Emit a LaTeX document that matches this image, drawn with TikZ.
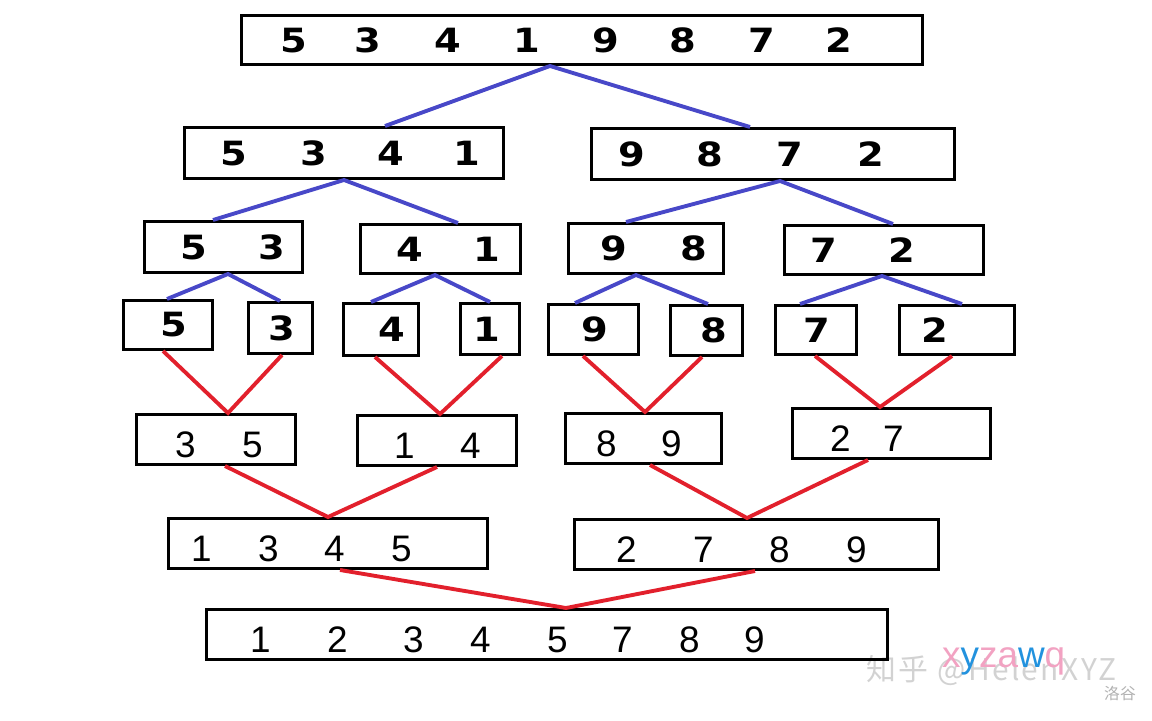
\documentclass[tikz,border=0pt]{standalone}
\usepackage{fontspec}
\setmainfont{Liberation Sans}
\newfontfamily\splitfont[FakeStretch=1.15]{DejaVu Sans Bold}
\newfontfamily\mergefont{Liberation Sans}
\newfontfamily\cjkfont{Noto Sans CJK SC}

\definecolor{splitblue}{RGB}{72,72,200}
\definecolor{mergered}{RGB}{226,32,44}
\definecolor{markpink}{RGB}{242,162,194}
\definecolor{markblue}{RGB}{34,146,222}

\newlength\pxu
\setlength\pxu{0.02cm}
% style, x1, y1, x2, y2, name, list of x/digit
\newcommand\numbox[7]{%
  \node[arraybox,#1,anchor=north west,
        minimum width={(#4-#2)*\pxu},minimum height={(#5-#3)*\pxu}]
    (#6) at (#2,#3) {\pgfmathsetmacro\boxmid{(#2+#4)/2}%
      \foreach \xp/\dg in {#7}{\pgfmathsetlengthmacro\off{(\xp-\boxmid)*\pxu}%
        \makebox[0pt][l]{\hspace*{\off}\makebox[0pt]{\dg}}}};}

\begin{document}
\begin{tikzpicture}[x=0.02cm,y=-0.02cm,
    arraybox/.style={draw,line width=1.7pt,inner sep=0pt},
    upper/.style={font=\splitfont\fontsize{19}{20}\selectfont},
    lower/.style={font=\mergefont\fontsize{21}{22}\selectfont,text height=20pt,text depth=0pt},
    split/.style={draw=splitblue,line width=2.2pt},
    merge/.style={draw=mergered,line width=2.2pt}]

\useasboundingbox (0,0) rectangle (1152,720);

\node[anchor=west,text=gray!35,font=\cjkfont\fontsize{17}{18}\selectfont\addfontfeature{LetterSpace=8}] (zhihu) at (860,671) {知乎 @HelenXYZ};
\node[anchor=base west,font=\mergefont\fontsize{21}{22}\selectfont] (xyz) at (936,667)
  {\color{markpink}x\color{markblue}y\color{markpink}za\color{markblue}w\color{markpink}q};
\node[anchor=west,text=gray!60,font=\cjkfont\fontsize{9}{10}\selectfont] (luogu) at (1098,693) {洛谷};

\numbox{upper}{240}{14}{921}{63}{top}{292/5,366/3,446/4,525/1,604/9,681/8,760/7,837/2}

\numbox{upper}{183}{126}{502}{177}{a}{232/5,312/3,389/4,465/1}
\numbox{upper}{590}{127}{953}{178}{b}{630/9,708/8,788/7,869/2}

\numbox{upper}{143}{220}{301}{271}{aa}{192/5,270/3}
\numbox{upper}{359}{223}{519}{272}{ab}{408/4,485/1}
\numbox{upper}{567}{222}{722}{272}{ba}{612/9,692/8}
\numbox{upper}{783}{224}{982}{273}{bb}{822/7,900/2}

\numbox{upper}{122}{299}{211}{348}{aaa}{172/5}
\numbox{upper}{247}{301}{311}{352}{aab}{280/3}
\numbox{upper}{342}{302}{417}{354}{aba}{390/4}
\numbox{upper}{459}{302}{518}{353}{abb}{485/1}
\numbox{upper}{547}{303}{637}{353}{baa}{593/9}
\numbox{upper}{669}{304}{741}{354}{bab}{712/8}
\numbox{upper}{774}{304}{855}{353}{bba}{815/7}
\numbox{upper}{898}{304}{1013}{353}{bbb}{933/2}

\numbox{lower}{135}{413}{294}{463}{m1}{184/3,251/5}
\numbox{lower}{356}{414}{515}{464}{m2}{403/1,469/4}
\numbox{lower}{564}{412}{720}{462}{m3}{605/8,670/9}
\numbox{lower}{791}{407}{989}{457}{m4}{839/2,892/7}

\numbox{lower}{167}{517}{486}{567}{m5}{200/1,267/3,333/4,400/5}
\numbox{lower}{573}{518}{937}{568}{m6}{625/2,702/7,778/8,855/9}

\numbox{lower}{205}{608}{886}{658}{fin}{259/1,336/2,412/3,479/4,556/5,621/7,688/8,753/9}

\draw[split] (a.north -| 385,0) -- (top.south -| 550,0) -- (b.north -| 750,0);
\draw[split] (aa.north -| 213,0) -- (a.south -| 344,0) -- (ab.north -| 458,0);
\draw[split] (ba.north -| 626,0) -- (b.south -| 780,0) -- (bb.north -| 893,0);
\draw[split] (aaa.north -| 167,0) -- (aa.south -| 228,0) -- (aab.north -| 280,0);
\draw[split] (aba.north -| 371,0) -- (ab.south -| 435,0) -- (abb.north -| 490,0);
\draw[split] (baa.north -| 575,0) -- (ba.south -| 636,0) -- (bab.north -| 708,0);
\draw[split] (bba.north -| 800,0) -- (bb.south -| 882,0) -- (bbb.north -| 962,0);

\draw[merge] (aaa.south -| 163,0) -- (m1.north -| 228,0) -- (aab.south -| 282,0);
\draw[merge] (aba.south -| 375,0) -- (m2.north -| 440,0) -- (abb.south -| 502,0);
\draw[merge] (baa.south -| 583,0) -- (m3.north -| 645,0) -- (bab.south -| 702,0);
\draw[merge] (bba.south -| 815,0) -- (m4.north -| 880,0) -- (bbb.south -| 952,0);
\draw[merge] (m1.south -| 225,0) -- (m5.north -| 328,0) -- (m2.south -| 437,0);
\draw[merge] (m3.south -| 650,0) -- (m6.north -| 747,0) -- (m4.south -| 868,0);
\draw[merge] (m5.south -| 340,0) -- (fin.north -| 566,0) -- (m6.south -| 755,0);

\end{tikzpicture}
\end{document}
